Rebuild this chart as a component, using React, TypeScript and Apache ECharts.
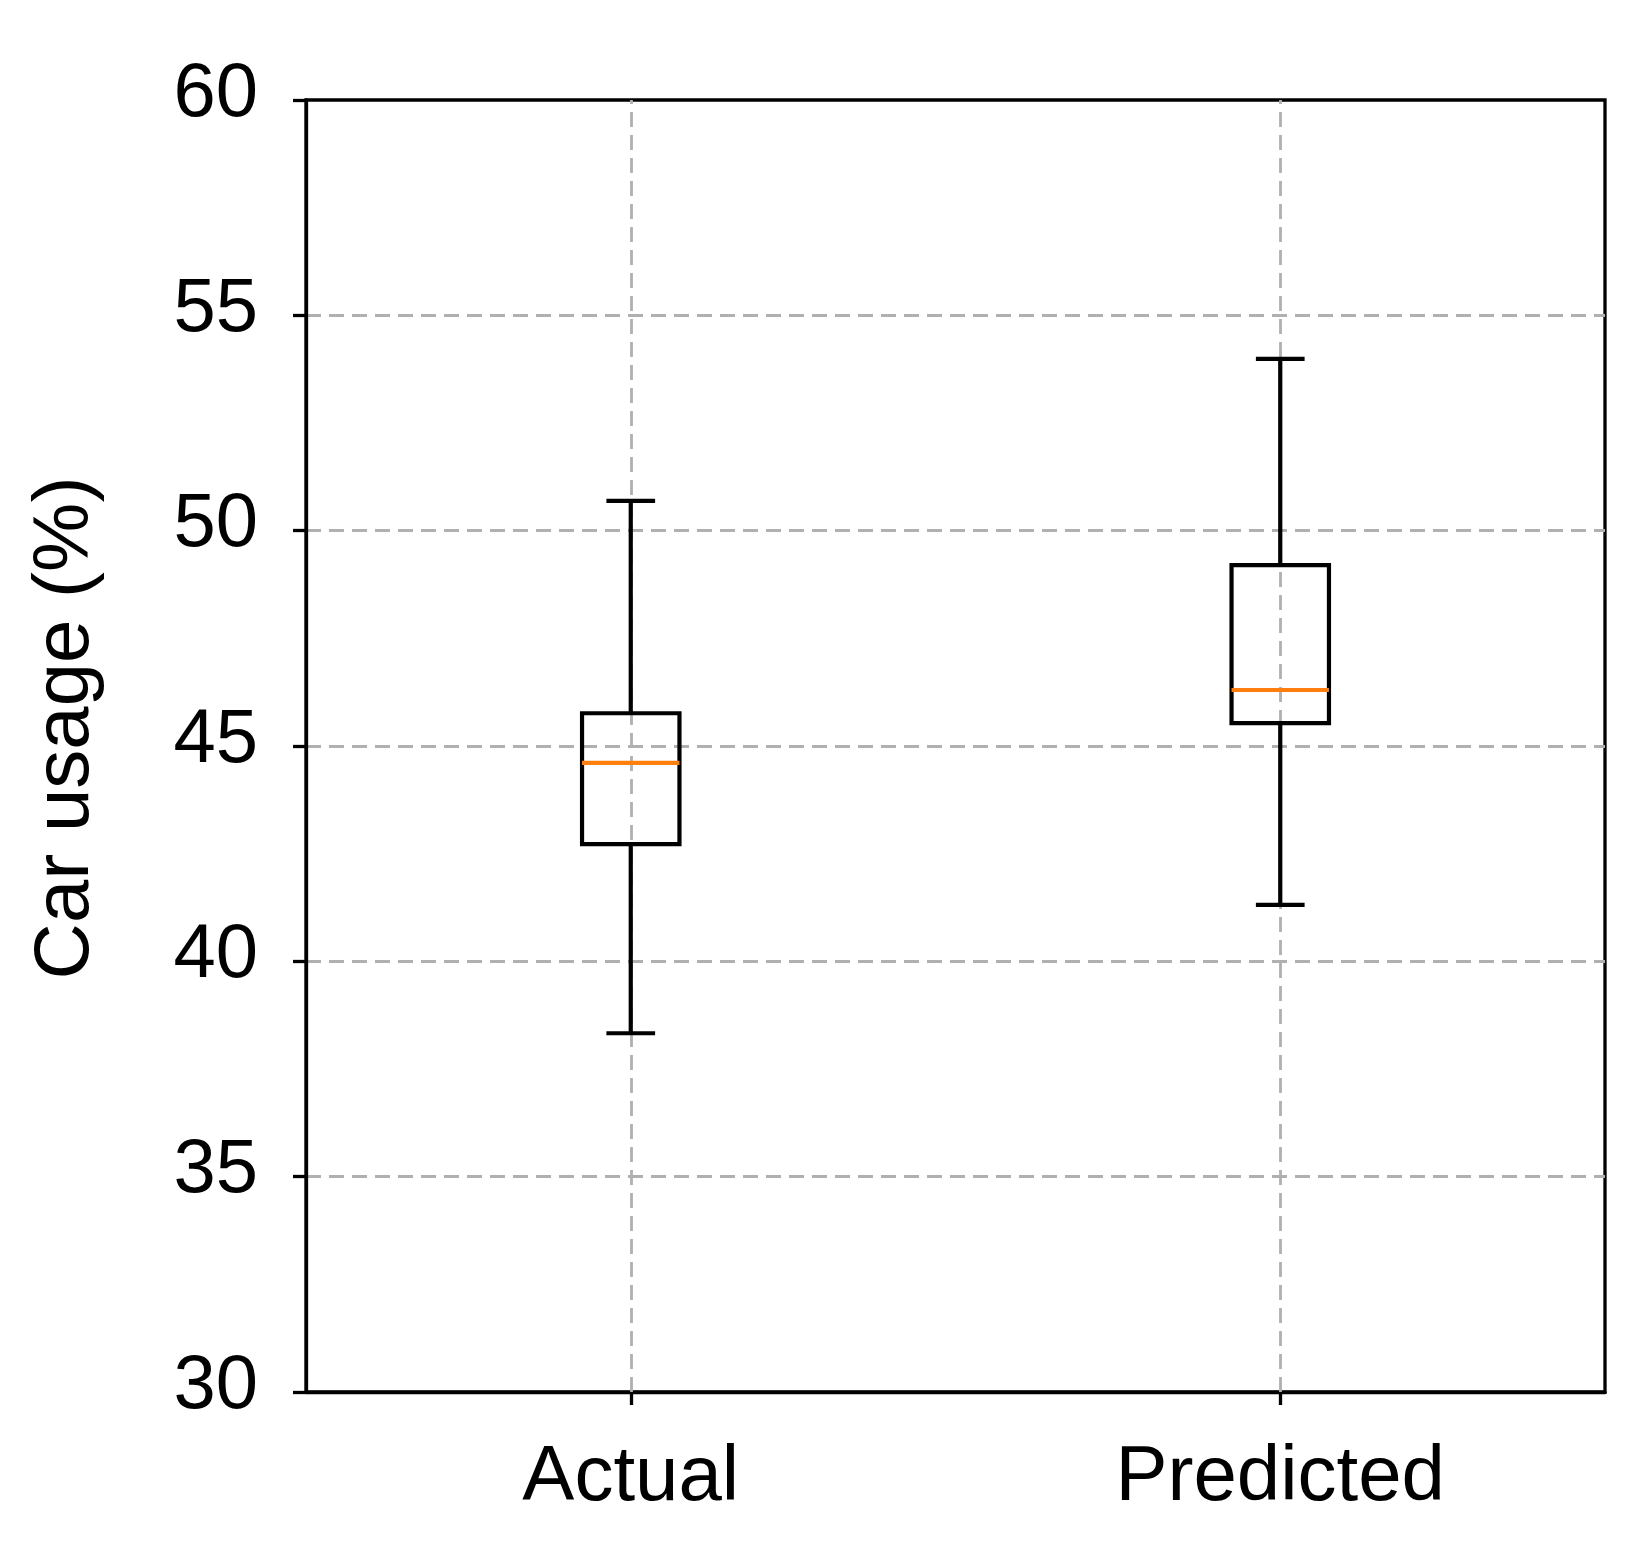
import React, { useEffect, useRef } from "react";
import * as echarts from "echarts";

const categories = ["Actual", "Predicted"];
const whiskerLow = [38.33, 41.31];
const quartile1 = [42.72, 45.53];
const medians = [44.61, 46.3];
const quartile3 = [45.76, 49.2];
const whiskerHigh = [50.69, 53.99];
const yTicks = { min: 30, max: 60, interval: 5 };
const yLabel = "Car usage (%)";

const FONT = "'Liberation Sans', Arial, Helvetica, sans-serif";
const GRID_COLOR = "#b0b0b0";
const AXIS_LW = 3.3;
const BOX_LW = 4.2;

export default function App() {
  const ref = useRef<HTMLDivElement>(null);

  useEffect(() => {
    if (!ref.current) return;
    const chart = echarts.init(ref.current, null, { renderer: "svg" });
    const boxData = categories.map((_, i) => [
      i,
      whiskerLow[i],
      quartile1[i],
      medians[i],
      quartile3[i],
      whiskerHigh[i],
    ]);

    const option: any = {
      animation: false,
      backgroundColor: "#ffffff",
      grid: {
        left: 306,
        top: 100,
        right: 45,
        bottom: 156,
        show: true,
        borderColor: "#000",
        borderWidth: AXIS_LW,
        backgroundColor: "transparent",
      },
      xAxis: {
        type: "category",
        data: categories,
        boundaryGap: true,
        axisLine: { show: true, lineStyle: { color: "#000", width: AXIS_LW } },
        axisTick: { show: true, alignWithLabel: true, inside: false, length: 13, lineStyle: { color: "#000", width: AXIS_LW } },
        axisLabel: { color: "#000", fontSize: 78, fontFamily: FONT, margin: 42 },
        splitLine: { show: false },
      },
      yAxis: {
        type: "value",
        min: yTicks.min,
        max: yTicks.max,
        interval: yTicks.interval,
        name: yLabel,
        nameLocation: "middle",
        nameRotate: 90,
        nameGap: 206,
        nameTextStyle: { color: "#000", fontSize: 78, fontFamily: FONT, padding: [0, 0, 0, 36] },
        axisLine: { show: true, lineStyle: { color: "#000", width: AXIS_LW } },
        axisTick: { show: true, inside: false, length: 13, lineStyle: { color: "#000", width: AXIS_LW } },
        axisLabel: {
          color: "#000",
          fontSize: 76,
          fontFamily: FONT,
          margin: 48,
          verticalAlign: "bottom",
          lineHeight: 22,
        },
        splitLine: {
          show: true,
          showMinLine: false,
          showMaxLine: false,
          lineStyle: { color: GRID_COLOR, width: 2.8, type: [15, 8] },
        },
      },
      series: [
        {
          type: "line",
          data: [],
          silent: true,
          markLine: {
            silent: true,
            symbol: ["none", "none"],
            label: { show: false },
            lineStyle: { color: GRID_COLOR, width: 2.8, type: [15, 8] },
            data: categories.map((c) => ({ xAxis: c })),
          },
        },
        {
          type: "custom",
          dimensions: ["cat", "low", "q1", "median", "q3", "high"],
          encode: { x: 0, y: [1, 2, 3, 4, 5] },
          data: boxData,
          z: 5,
          renderItem: (params: any, api: any) => {
            const x = api.value(0);
            const lo = api.coord([x, api.value(1)]);
            const q1 = api.coord([x, api.value(2)]);
            const med = api.coord([x, api.value(3)]);
            const q3 = api.coord([x, api.value(4)]);
            const hi = api.coord([x, api.value(5)]);
            const band = api.size([1, 0])[0];
            const bw = band * 0.15;
            const cw = bw / 2;
            const cx = lo[0];
            const stroke = { stroke: "#000", lineWidth: BOX_LW, fill: "none" };
            return {
              type: "group",
              children: [
                { type: "line", shape: { x1: cx, y1: lo[1], x2: cx, y2: q1[1] }, style: stroke },
                { type: "line", shape: { x1: cx, y1: q3[1], x2: cx, y2: hi[1] }, style: stroke },
                { type: "line", shape: { x1: cx - cw / 2, y1: lo[1], x2: cx + cw / 2, y2: lo[1] }, style: stroke },
                { type: "line", shape: { x1: cx - cw / 2, y1: hi[1], x2: cx + cw / 2, y2: hi[1] }, style: stroke },
                {
                  type: "rect",
                  shape: { x: cx - bw / 2, y: q3[1], width: bw, height: q1[1] - q3[1] },
                  style: stroke,
                },
                {
                  type: "line",
                  shape: { x1: cx - bw / 2, y1: med[1], x2: cx + bw / 2, y2: med[1] },
                  style: { stroke: "#ff7f0e", lineWidth: BOX_LW },
                },
              ],
            };
          },
        },
      ],
    };
    chart.setOption(option);
    return () => chart.dispose();
  }, []);

  return (
    <div
      ref={ref}
      style={{ position: "absolute", left: 0, top: 0, width: 1650, height: 1548, background: "#fff" }}
    />
  );
}
